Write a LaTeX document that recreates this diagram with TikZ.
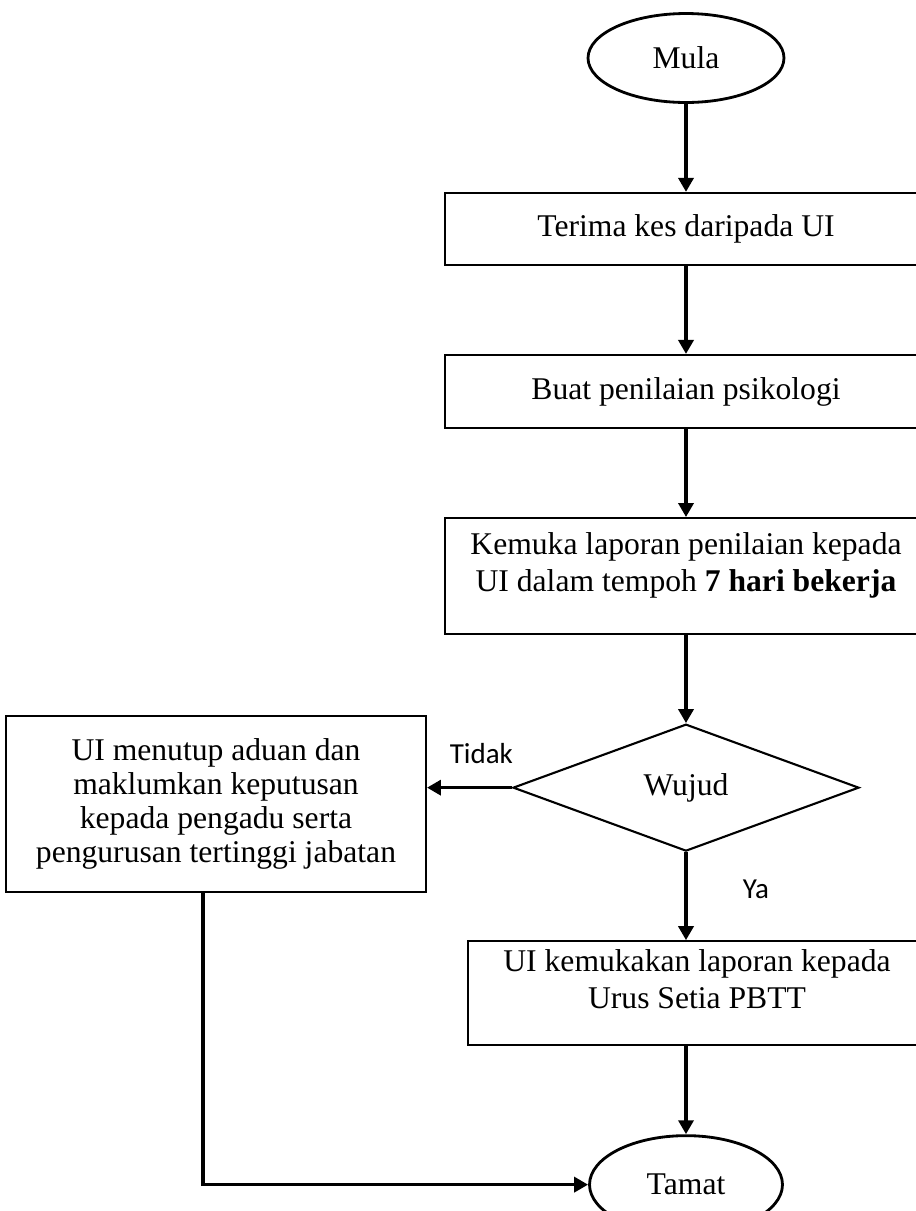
\documentclass[tikz,border=0pt]{standalone}
\usepackage{fontspec}
\setmainfont{Liberation Serif}
\newfontfamily\labelfont{Carlito}
\usepackage{tikz}
\usetikzlibrary{arrows.meta,shapes,positioning}

\newcommand{\lowpad}{\rule[-0.55cm]{0pt}{0.55cm}}

\begin{document}
\begin{tikzpicture}[node distance=1.76cm, x=0.02cm, y=-0.02cm]
\tikzstyle{mybox} = [rectangle, draw = black, line width=1.2pt, align=center, inner sep=0pt, font=\fontsize{18}{21}\selectfont]
\tikzstyle{myterm} = [ellipse, draw = black, line width=1.6pt, inner sep=0pt, font=\fontsize{18}{21}\selectfont]
\tikzstyle{mydiamond} = [diamond, draw = black, line width=1.2pt, inner sep=0pt, minimum width=6.92cm, minimum height=2.54cm, font=\fontsize{18}{21}\selectfont]
\tikzstyle{myarrow} = [line width=2pt, -{Triangle[length=0.28cm, width=0.3cm]}]
\tikzstyle{mylabel} = [inner sep=0pt, font=\labelfont\fontsize{16.5}{20}\selectfont]
\path [use as bounding box, clip] (0,0) rectangle (916,1211);
\node (mula) [myterm, minimum width=3.92cm, minimum height=1.78cm] at (686,58) {Mula};
\node (terima) [mybox, below = of mula, minimum width=9.64cm, minimum height=1.44cm] {Terima kes daripada UI};
\node (nilai) [mybox, below = of terima, minimum width=9.64cm, minimum height=1.46cm] {Buat penilaian psikologi};
\node (lapor) [mybox, below = of nilai, minimum width=9.64cm, minimum height=2.32cm] {Kemuka laporan penilaian kepada\\UI dalam tempoh \textbf{7 hari bekerja}\lowpad};
\node (wujud) [mydiamond, below = of lapor] {Wujud};
\node (tutup) [mybox, left = 1.7cm of wujud, yshift=-0.32cm, minimum width=8.4cm, minimum height=3.52cm, font=\fontsize{18}{19.3}\selectfont] {UI menutup aduan dan\\maklumkan keputusan\\kepada pengadu serta\\pengurusan tertinggi jabatan};
\node (kemuka) [mybox, below = of wujud, xshift=0.22cm, minimum width=9.16cm, minimum height=2.08cm] {UI kemukakan laporan kepada\\Urus Setia PBTT\lowpad};
\node (tamat) [myterm, below = of kemuka, xshift=-0.22cm, minimum width=3.86cm, minimum height=1.96cm] {Tamat};
\draw [myarrow] (mula) -- (terima);
\draw [myarrow] (terima) -- (nilai);
\draw [myarrow] (nilai) -- (lapor);
\draw [myarrow] (lapor) -- (wujud);
\draw [myarrow] (wujud.west) -- node [mylabel, pos=0.36, yshift=0.68cm] {Tidak} (wujud.west -| tutup.east);
\draw [myarrow] (wujud) -- node [mylabel, pos=0.42, xshift=1.4cm] {Ya} (wujud |- kemuka.north);
\draw [myarrow] (kemuka.south -| tamat) -- (tamat);
\draw [myarrow] ([xshift=-0.26cm]tutup.south) |- (tamat.west);
\end{tikzpicture}
\end{document}
